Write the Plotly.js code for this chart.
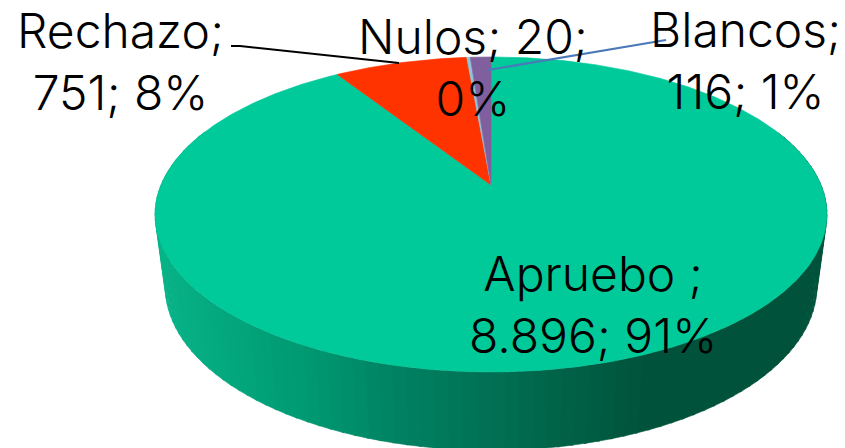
<!DOCTYPE html>
<html><head><meta charset="utf-8">
<script src="https://cdn.plot.ly/plotly-3.0.1.min.js"></script>
<style>html,body{margin:0;padding:0;background:#fff}#c{width:845px;height:448px}</style></head>
<body><div id="c"></div>
<script>
const categories = ['Apruebo', 'Rechazo', 'Nulos', 'Blancos'];
const values = [8896, 751, 20, 116];
const colors = ['#00C99A', '#FF3300', '#8FC3D9', '#7F5F9E'];
const labels = ['Apruebo ;<br>8.896; 91%', 'Rechazo;<br>751; 8%', 'Nulos; 20;<br>0%', 'Blancos;<br>116; 1%'];

const FONT = 'Inter, "Open Sans", sans-serif';
const total = values.reduce((a, b) => a + b, 0);
const cx = 491, k = 0.187;
const topDisc = {y0: 185, A: 330, B: 152};
const baseDisc = {y0: 256, A: 320, B: 158};
function proj(d, t) {
  const u = Math.sin(t), v = -Math.cos(t), w = 1 - k * v;
  return [cx + d.A * u / w, d.y0 + d.B * v / w];
}
function arc(d, a, b) {
  const n = Math.max(2, Math.ceil(Math.abs(b - a) / 0.01)), out = [];
  for (let i = 0; i <= n; i++) out.push(proj(d, a + (b - a) * i / n));
  return out;
}
const stops = [[160,[8,180,136]],[300,[0,155,115]],[400,[0,130,98]],[500,[0,110,82]],[640,[0,83,58]],[830,[0,83,58]]];
function shade(x) {
  for (let i = 1; i < stops.length; i++) if (x <= stops[i][0]) {
    const f = Math.max(0, (x - stops[i-1][0]) / (stops[i][0] - stops[i-1][0]));
    const c = stops[i-1][1].map((s, j) => Math.round(s + (stops[i][1][j] - s) * f));
    return `rgb(${c.join(',')})`;
  }
  return `rgb(${stops[stops.length-1][1].join(',')})`;
}
const traces = [];
function poly(pts, color) {
  traces.push({type:'scatter', mode:'lines', x:pts.map(p=>p[0]), y:pts.map(p=>p[1]), fill:'toself',
    fillcolor:color, line:{color:color, width:0.6}, hoverinfo:'skip', showlegend:false});
}
// wall of the pie, front half, in strips so that the shade can follow the x position
const wallStart = Math.PI * 0.38, wallEnd = Math.PI * 1.62, strips = 110;
for (let i = 0; i < strips; i++) {
  const a = wallStart + (wallEnd - wallStart) * i / strips, b = wallStart + (wallEnd - wallStart) * (i + 1.2) / strips;
  const t = arc(topDisc, a, b), g = arc(baseDisc, b, a);
  const xm = (proj(baseDisc, a)[0] + proj(baseDisc, b)[0]) / 2;
  poly(t.concat(g), shade(xm));
}
// top face, one wedge for each value, clockwise from 12 o'clock
let acc = 0;
values.forEach((val, i) => {
  const a = acc / total * 2 * Math.PI; acc += val;
  const b = acc / total * 2 * Math.PI;
  poly([[cx, topDisc.y0]].concat(arc(topDisc, a, b)).concat([[cx, topDisc.y0]]), colors[i]);
});
const labelPos = [[593, 304], [120, 61], [473, 67], [745, 60]];
const annotations = labels.map((t, i) => ({x: labelPos[i][0], y: labelPos[i][1], xref:'x', yref:'y', text:t, showarrow:false,
  xanchor:'center', yanchor:'middle', align:'center', font:{family:FONT, size:48, color:'#000', weight:300}}));
const shapes = [
  {type:'path', path:'M231,46 L240,46 L399,63', line:{color:'#000', width:2}},
  {type:'line', x0:666, y0:40, x1:488, y1:70, line:{color:'#4A78B8', width:2}}
];
Plotly.newPlot('c', traces, {
  width:845, height:448, margin:{l:0,r:0,t:0,b:0}, showlegend:false,
  paper_bgcolor:'#fff', plot_bgcolor:'#fff',
  xaxis:{range:[0,845], visible:false, fixedrange:true},
  yaxis:{range:[448,0], visible:false, fixedrange:true},
  annotations, shapes
}, {staticPlot:true, displayModeBar:false});
</script></body></html>
